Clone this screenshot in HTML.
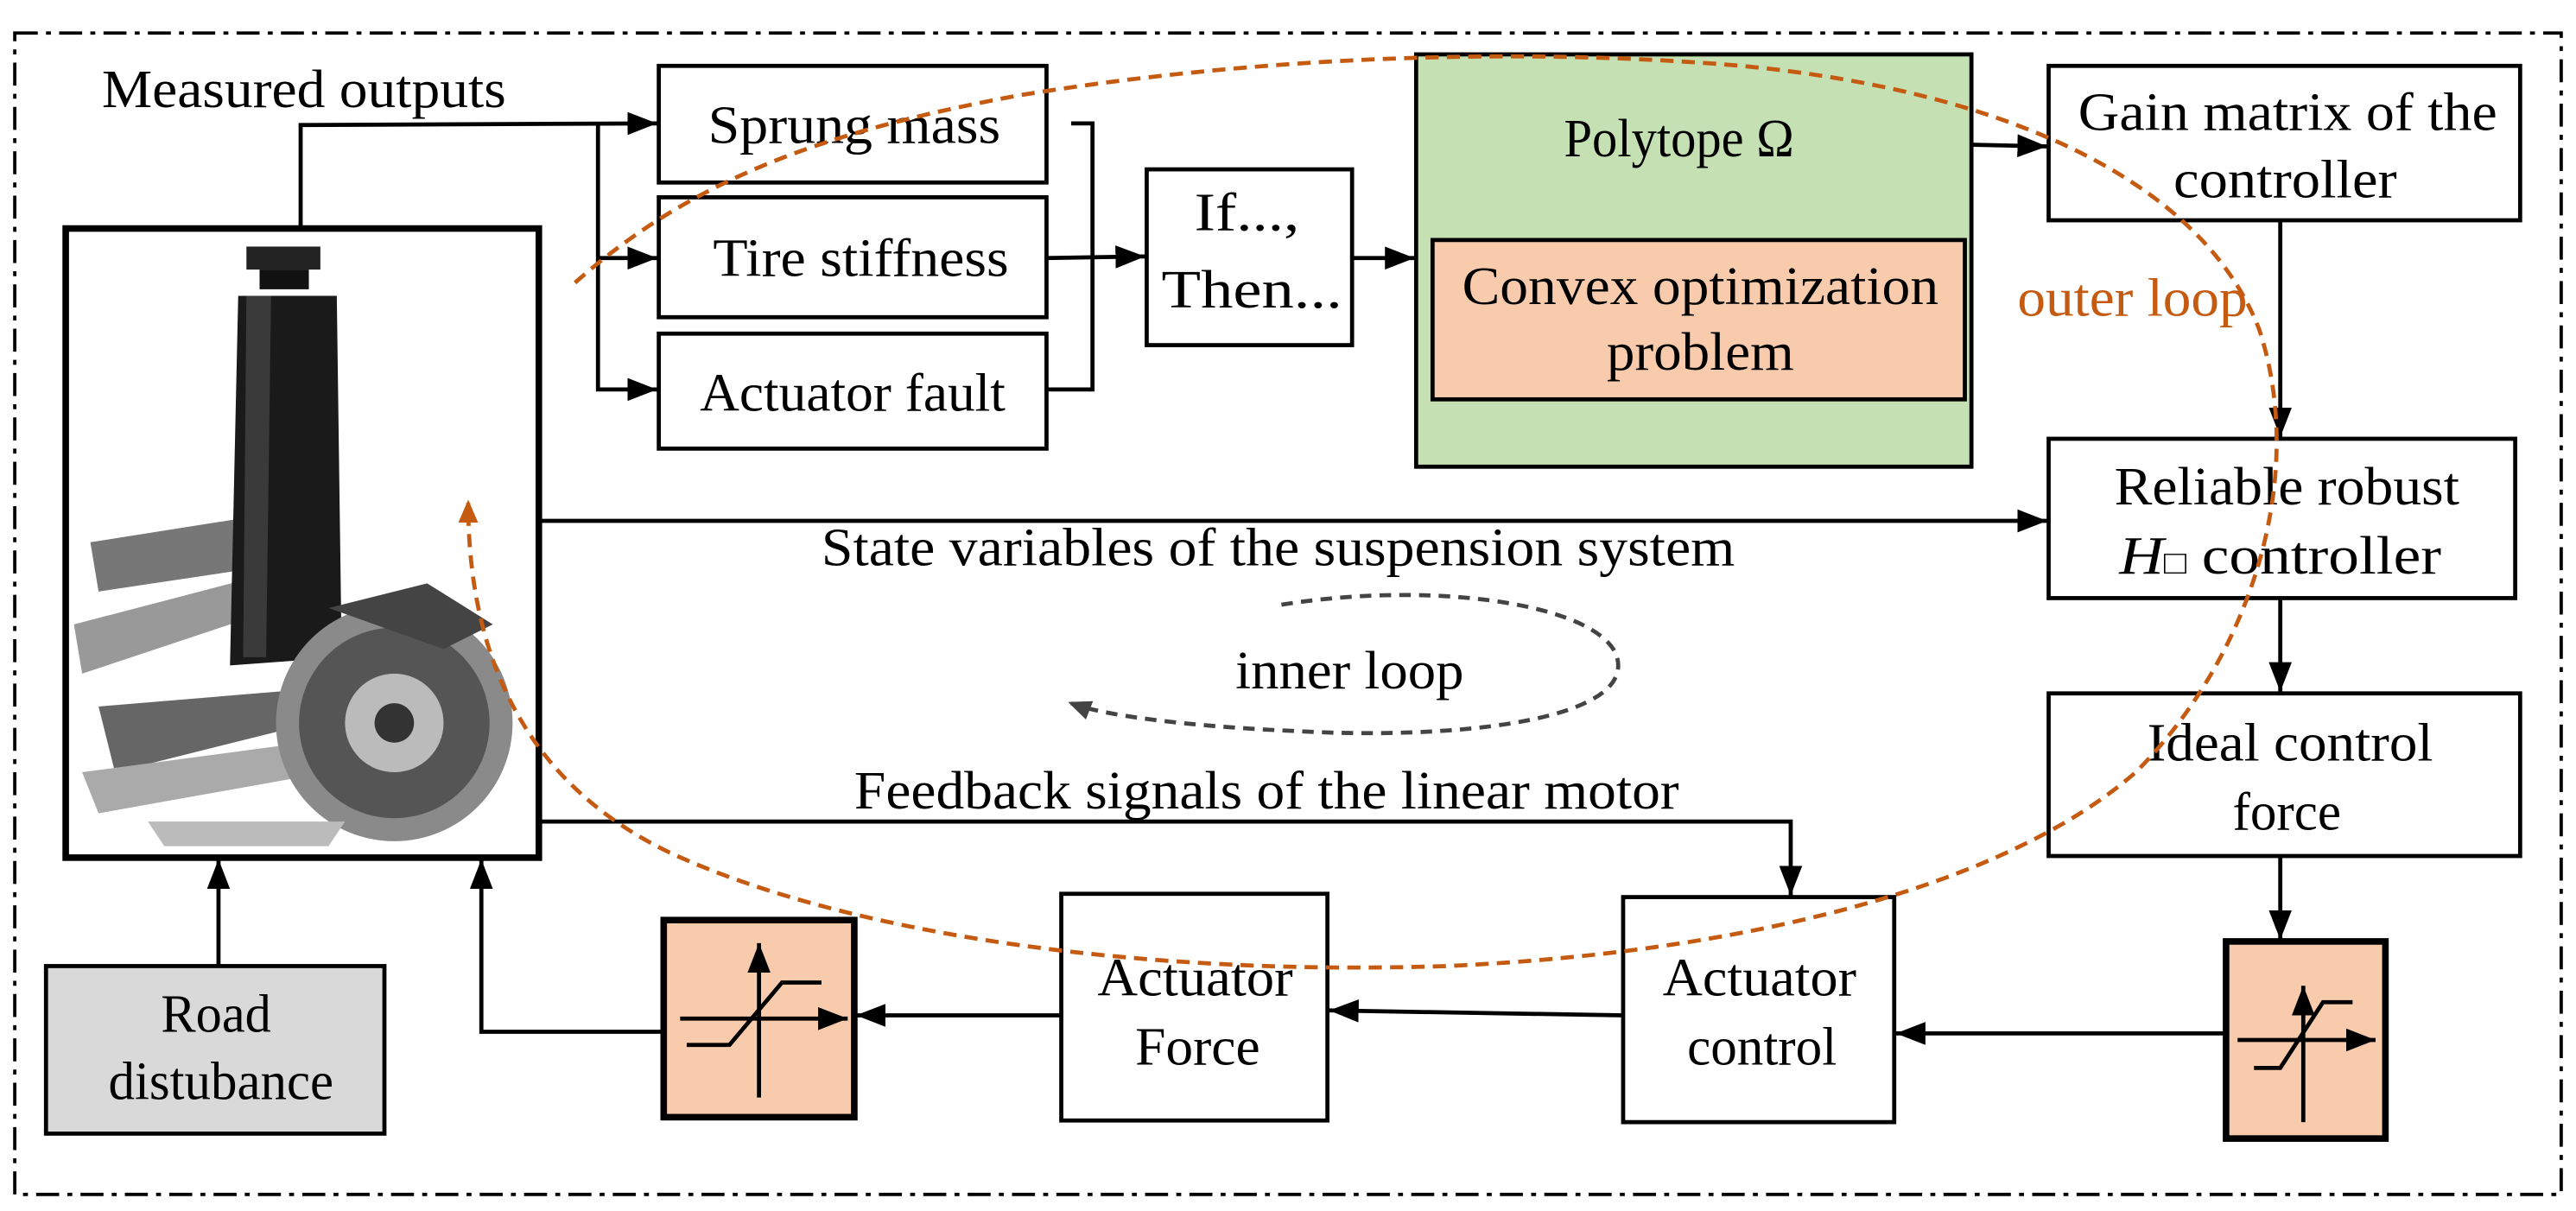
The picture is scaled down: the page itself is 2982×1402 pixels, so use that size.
<!DOCTYPE html>
<html><head><meta charset="utf-8"><style>
html,body{margin:0;padding:0;background:#fff}
svg{display:block}
text{font-family:"Liberation Serif",serif;font-size:33px;fill:#000}
</style></head><body>
<svg width="2982" height="1402" viewBox="0 0 1568 737" xmlns="http://www.w3.org/2000/svg">
<defs>
<marker id="ab" markerWidth="18" markerHeight="14" refX="18" refY="7" orient="auto" markerUnits="userSpaceOnUse"><path d="M0,0L18,7L0,14z" fill="#000"/></marker>
<marker id="ao" markerWidth="14" markerHeight="12" refX="12" refY="6" orient="auto" markerUnits="userSpaceOnUse"><path d="M0,0L14,6L0,12z" fill="#c55a11"/></marker>
<marker id="ag" markerWidth="14" markerHeight="12" refX="12" refY="6" orient="auto" markerUnits="userSpaceOnUse"><path d="M0,0L14,6L0,12z" fill="#444"/></marker>
</defs>
<rect x="9" y="20" width="1550" height="707" fill="none" stroke="#000" stroke-width="2" stroke-dasharray="14,5,3,5"/>

<g>
<rect x="40" y="139" width="288" height="383" fill="#fff"/>
<path d="M55,330 L150,315 L160,345 L60,360z" fill="#777"/>
<path d="M45,380 L160,350 L170,370 L50,410z" fill="#999"/>
<path d="M60,430 L180,420 L190,440 L70,470z" fill="#666"/>
<path d="M50,470 L200,450 L200,470 L60,495z" fill="#aaa"/>
<rect x="150" y="150" width="45" height="14" fill="#222"/>
<rect x="158" y="164" width="30" height="12" fill="#111"/>
<path d="M145,180 L205,180 L208,400 L140,405z" fill="#1a1a1a"/>
<path d="M150,180 L165,180 L162,400 L148,400z" fill="#3a3a3a"/>
<circle cx="240" cy="440" r="72" fill="#8a8a8a"/>
<circle cx="240" cy="440" r="58" fill="#555"/>
<circle cx="240" cy="440" r="30" fill="#bbb"/>
<circle cx="240" cy="440" r="12" fill="#333"/>
<path d="M200,370 L260,355 L300,380 L270,395z" fill="#444"/>
<path d="M90,500 L210,500 L200,515 L100,515z" fill="#bbb"/>
</g>
<rect x="40" y="139" width="288" height="383" fill="none" stroke="#000" stroke-width="4"/>

<g stroke="#000" stroke-width="2.5" fill="none">
<polyline points="183,139 183,76 400,75" marker-end="url(#ab)"/>
<polyline points="364,75 364,237 400,237" marker-end="url(#ab)"/>
<line x1="364" y1="157" x2="400" y2="157" marker-end="url(#ab)"/>
<polyline points="652,75 665,75 665,237 637,237"/>
<line x1="637" y1="157" x2="697" y2="156" marker-end="url(#ab)"/>
<line x1="823" y1="157" x2="861" y2="157" marker-end="url(#ab)"/>
<line x1="1200" y1="88" x2="1246" y2="89" marker-end="url(#ab)"/>
<line x1="1388" y1="134" x2="1388" y2="266" marker-end="url(#ab)"/>
<line x1="328" y1="317" x2="1246" y2="317" marker-end="url(#ab)"/>
<line x1="1388" y1="364" x2="1388" y2="421" marker-end="url(#ab)"/>
<line x1="1388" y1="521" x2="1388" y2="572" marker-end="url(#ab)"/>
<line x1="1355" y1="629" x2="1154" y2="629" marker-end="url(#ab)"/>
<polyline points="328,500 1090,500 1090,545" marker-end="url(#ab)"/>
<line x1="988" y1="618" x2="809" y2="615" marker-end="url(#ab)"/>
<line x1="646" y1="618" x2="521" y2="618" marker-end="url(#ab)"/>
<polyline points="403,628 293,628 293,523" marker-end="url(#ab)"/>
<line x1="133" y1="588" x2="133" y2="523" marker-end="url(#ab)"/>
</g>

<g stroke="#000" stroke-width="2.5" fill="#fff">
<rect x="401" y="40" width="236" height="71"/>
<rect x="401" y="120" width="236" height="73"/>
<rect x="401" y="203" width="236" height="70"/>
<rect x="698" y="103" width="125" height="107"/>
<rect x="862" y="33" width="338" height="251" fill="#c5e0b3"/>
<rect x="872" y="146" width="324" height="97" fill="#f8cbad"/>
<rect x="1247" y="40" width="287" height="94"/>
<rect x="1247" y="267" width="284" height="97"/>
<rect x="1247" y="422" width="287" height="99"/>
<rect x="988" y="546" width="165" height="137"/>
<rect x="646" y="544" width="162" height="138"/>
<rect x="28" y="588" width="206" height="102" fill="#d9d9d9"/>
</g>
<g stroke="#000" stroke-width="4" fill="#f8cbad">
<rect x="1355" y="573" width="97" height="120"/>
<rect x="404" y="560" width="116" height="120"/>
</g>
<g stroke="#000" stroke-width="2.5" fill="none">
<line x1="1402" y1="683" x2="1402" y2="600" marker-end="url(#ab)"/>
<line x1="1362" y1="633" x2="1446" y2="633" marker-end="url(#ab)"/>
<polyline points="1372,650 1388,650 1414,610 1432,610"/>
<line x1="462" y1="668" x2="462" y2="574" marker-end="url(#ab)"/>
<line x1="414" y1="620" x2="516" y2="620" marker-end="url(#ab)"/>
<polyline points="418,636 444,636 476,598 500,598"/>
</g>

<g>
<text x="62" y="65" textLength="246" lengthAdjust="spacingAndGlyphs">Measured outputs</text>
<text x="431" y="87" textLength="178" lengthAdjust="spacingAndGlyphs">Sprung mass</text>
<text x="434" y="168" textLength="180" lengthAdjust="spacingAndGlyphs">Tire stiffness</text>
<text x="426" y="250" textLength="186" lengthAdjust="spacingAndGlyphs">Actuator fault</text>
<text x="727" y="140" textLength="64" lengthAdjust="spacingAndGlyphs">If...,</text>
<text x="707" y="187" textLength="110" lengthAdjust="spacingAndGlyphs">Then...</text>
<text x="952" y="95" textLength="140" lengthAdjust="spacingAndGlyphs">Polytope  Ω</text>
<text x="890" y="185" textLength="290" lengthAdjust="spacingAndGlyphs">Convex optimization</text>
<text x="978" y="225" textLength="114" lengthAdjust="spacingAndGlyphs">problem</text>
<text x="1265" y="79" textLength="255" lengthAdjust="spacingAndGlyphs">Gain matrix of the</text>
<text x="1323" y="120" textLength="136" lengthAdjust="spacingAndGlyphs">controller</text>
<text x="1287" y="307" textLength="210" lengthAdjust="spacingAndGlyphs">Reliable robust</text>
<text x="1290" y="349" textLength="196" lengthAdjust="spacingAndGlyphs"><tspan font-style="italic">H</tspan><tspan font-size="20">□</tspan> controller</text>
<text x="1307" y="463" textLength="174" lengthAdjust="spacingAndGlyphs">Ideal control</text>
<text x="1359" y="505" textLength="66" lengthAdjust="spacingAndGlyphs">force</text>
<text x="1012" y="606" textLength="118" lengthAdjust="spacingAndGlyphs">Actuator</text>
<text x="1027" y="648" textLength="91" lengthAdjust="spacingAndGlyphs">control</text>
<text x="668" y="606" textLength="119" lengthAdjust="spacingAndGlyphs">Actuator</text>
<text x="691" y="648" textLength="76" lengthAdjust="spacingAndGlyphs">Force</text>
<text x="98" y="628" textLength="67" lengthAdjust="spacingAndGlyphs">Road</text>
<text x="66" y="669" textLength="137" lengthAdjust="spacingAndGlyphs">distubance</text>
<text x="500" y="344" textLength="556" lengthAdjust="spacingAndGlyphs">State variables of the suspension system</text>
<text x="520" y="492" textLength="502" lengthAdjust="spacingAndGlyphs">Feedback signals of the linear motor</text>
<text x="752" y="419" textLength="139" lengthAdjust="spacingAndGlyphs">inner loop</text>
<text x="1228" y="192" style="fill:#c55a11" textLength="140" lengthAdjust="spacingAndGlyphs">outer loop</text>
</g>

<path d="M780,368 C880,352 985,370 985,405 C985,440 880,450 790,445 C720,442 670,435 652,428" fill="none" stroke="#444" stroke-width="2.5" stroke-dasharray="7,5" marker-end="url(#ag)"/>
<path d="M350,172 C420,110 500,80 620,58 C760,35 920,28 1060,40 C1220,55 1340,110 1375,200 C1405,290 1370,400 1300,470 C1220,540 1060,580 880,588 C700,594 520,570 410,520 C320,478 285,400 285,306" fill="none" stroke="#c55a11" stroke-width="2.5" stroke-dasharray="8,5" marker-end="url(#ao)"/>
</svg>
</body></html>
